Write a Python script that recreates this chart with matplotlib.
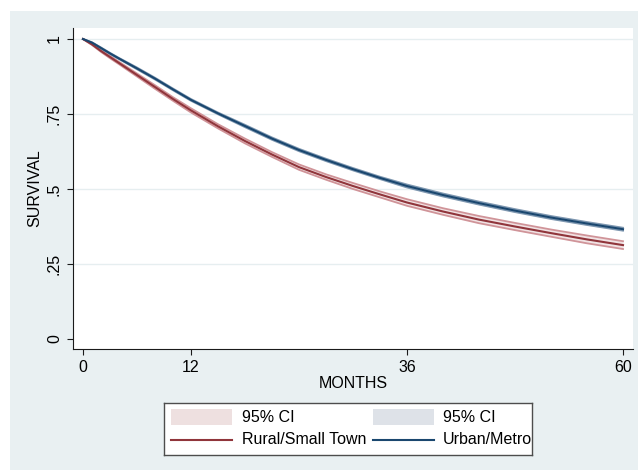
import numpy as np
import matplotlib.pyplot as plt
from matplotlib.patches import Rectangle

plt.rcParams['font.family'] = ['Liberation Sans', 'DejaVu Sans']

# Kaplan-Meier estimates by residence
months = [0, 1, 2, 3, 4, 6, 8, 10, 12, 15, 18, 21, 24, 27, 30, 33, 36, 40, 44, 48, 52, 56, 60]
rural = [1.0, 0.982, 0.96, 0.94, 0.92, 0.88, 0.84, 0.8, 0.762, 0.709, 0.66, 0.615,
         0.573, 0.54, 0.51, 0.482, 0.455, 0.425, 0.398, 0.375, 0.353, 0.332, 0.313]
urban = [1.0, 0.988, 0.97, 0.952, 0.935, 0.902, 0.868, 0.832, 0.797, 0.752, 0.71, 0.668,
         0.63, 0.597, 0.566, 0.537, 0.51, 0.48, 0.453, 0.428, 0.405, 0.385, 0.366]
# half width of the 95% CI
rural_ci = [0.0, 0.002, 0.003, 0.004, 0.004, 0.005, 0.006, 0.006, 0.007, 0.007, 0.008, 0.008,
            0.009, 0.009, 0.010, 0.010, 0.011, 0.011, 0.012, 0.012, 0.012, 0.013, 0.013]
urban_ci = [0.0, 0.001, 0.002, 0.002, 0.002, 0.003, 0.003, 0.003, 0.003, 0.003, 0.004, 0.004,
            0.004, 0.004, 0.004, 0.004, 0.005, 0.005, 0.005, 0.005, 0.005, 0.005, 0.005]

xticks = [0, 12, 36, 60]
yticks = [0, 0.25, 0.5, 0.75, 1]
yticklabels = ['0', '.25', '.5', '.75', '1']

red = '#90353B'
blue = '#1A476F'
red_ci_edge = '#D09499'
red_ci_fill = '#F1E3E4'
blue_ci_edge = '#7E97B0'
blue_ci_fill = '#DDE3EA'
bg = '#E9F0F2'
W, H = 638, 470

fig = plt.figure(figsize=(W / 100, H / 100), dpi=100)
fig.patch.set_facecolor('white')
fig.add_artist(Rectangle((10 / W, 0), 1 - 10 / W, (H - 11) / H, transform=fig.transFigure,
                         facecolor=bg, edgecolor='none', zorder=-5))

ax = fig.add_axes([73 / W, (H - 349) / H, (633 - 73) / W, (349 - 28) / H])
ax.set_facecolor('white')

m = np.array(months)
r = np.array(rural)
u = np.array(urban)
rc = np.array(rural_ci)
uc = np.array(urban_ci)

# confidence bands
ax.fill_between(m, r - rc, r + rc, color=red_ci_fill, lw=0, zorder=2)
ax.plot(m, r - rc, color=red_ci_edge, lw=1.3, zorder=2)
ax.plot(m, r + rc, color=red_ci_edge, lw=1.3, zorder=2)
ax.fill_between(m, u - uc, u + uc, color=blue_ci_fill, lw=0, zorder=2)
ax.plot(m, u - uc, color=blue_ci_edge, lw=1.3, zorder=2)
ax.plot(m, u + uc, color=blue_ci_edge, lw=1.3, zorder=2)

# survival curves
ax.plot(m, r, color=red, lw=1.5, zorder=3)
ax.plot(m, u, color=blue, lw=1.5, zorder=3)

ax.set_xlim(-1.11, 61.11)
ax.set_ylim(-0.0333, 1.0367)
ax.set_xticks(xticks)
ax.set_yticks(yticks)
ax.set_yticklabels(yticklabels, rotation=90, va='center')

for y in yticks[1:]:
    ax.axhline(y, color='#E6EEF0', lw=1.0, zorder=1)

for side in ['top', 'right']:
    ax.spines[side].set_visible(False)
for side in ['left', 'bottom']:
    ax.spines[side].set_color('#1a1a1a')
    ax.spines[side].set_linewidth(0.8)
ax.tick_params(axis='both', direction='out', length=4, width=0.8, color='#1a1a1a',
               labelsize=11.5, labelcolor='black')
ax.tick_params(axis='y', pad=4)
ax.tick_params(axis='x', pad=4)

ax.set_ylabel('SURVIVAL', fontsize=11.5)
ax.yaxis.set_label_coords((35 - 73) / 560, 0.5)
ax.yaxis.label.set_va('center')
ax.set_xlabel('MONTHS', fontsize=11.5)
ax.xaxis.set_label_coords(0.5, (349 - 383) / 321)
ax.xaxis.label.set_va('center')

# legend box
lg = fig.add_axes([164 / W, (H - 455) / H, 368 / W, 52 / H])
lg.set_xlim(0, 368)
lg.set_ylim(52, 0)
lg.set_xticks([])
lg.set_yticks([])
lg.set_facecolor('white')
for s in lg.spines.values():
    s.set_color('#4d4d4d')
    s.set_linewidth(1.0)

lg.add_patch(Rectangle((7, 6), 61, 16, facecolor='#EEE0E0', edgecolor='none'))
lg.add_patch(Rectangle((209, 6), 61, 16, facecolor='#DEE2E8', edgecolor='none'))
lg.plot([7, 68], [37, 37], color=red, lw=1.5)
lg.plot([209, 270], [37, 37], color=blue, lw=1.5)
lg.text(78, 14, '95% CI', fontsize=11.5, va='center')
lg.text(279, 14, '95% CI', fontsize=11.5, va='center')
lg.text(78, 37, 'Rural/Small Town', fontsize=11.5, va='center')
lg.text(279, 37, 'Urban/Metro', fontsize=11.5, va='center')

plt.savefig('out.png', dpi=100)
